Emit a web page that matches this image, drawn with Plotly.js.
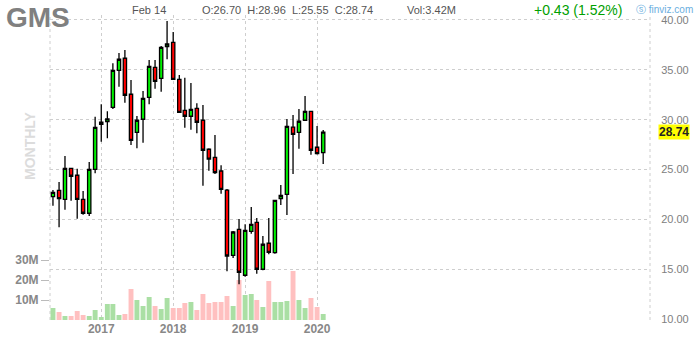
<!DOCTYPE html>
<html><head><meta charset="utf-8">
<script src="https://cdn.plot.ly/plotly-3.0.1.min.js"></script>
<style>html,body{margin:0;padding:0;background:#fff}#chart{width:700px;height:340px}</style>
</head><body><div id="chart"></div>
<script>
const ticker = 'GMS';
const period = 'MONTHLY';
const months = ['2016-05-01','2016-06-01','2016-07-01','2016-08-01','2016-09-01','2016-10-01','2016-11-01','2016-12-01',
  '2017-01-01','2017-02-01','2017-03-01','2017-04-01','2017-05-01','2017-06-01','2017-07-01','2017-08-01','2017-09-01','2017-10-01','2017-11-01','2017-12-01',
  '2018-01-01','2018-02-01','2018-03-01','2018-04-01','2018-05-01','2018-06-01','2018-07-01','2018-08-01','2018-09-01','2018-10-01','2018-11-01','2018-12-01',
  '2019-01-01','2019-02-01','2019-03-01','2019-04-01','2019-05-01','2019-06-01','2019-07-01','2019-08-01','2019-09-01','2019-10-01','2019-11-01','2019-12-01',
  '2020-01-01','2020-02-01'];
const open  = [22.27,22.90,22.01,25.12,24.42,22.01,20.61,25.02,29.54,29.80,31.24,34.95,36.16,32.55,28.73,30.04,32.24,35.25,34.15,37.32,
  37.76,34.05,30.94,30.34,31.14,29.94,27.03,26.22,24.85,22.94,16.39,19.00,14.39,18.80,19.70,14.99,17.60,16.65,22.09,22.51,
  29.26,28.73,29.94,30.84,27.23,26.70];
const high  = [22.94,23.75,26.35,25.15,25.08,22.84,25.75,30.30,31.54,30.84,35.66,36.69,36.99,33.98,30.37,32.88,35.99,35.99,37.39,39.90,
  38.80,34.48,34.21,33.68,31.64,31.47,27.13,28.46,25.42,23.04,18.83,20.03,19.50,21.24,20.13,18.33,20.13,21.95,23.45,30.07,
  30.47,31.07,32.37,30.90,29.37,28.96];
const low   = [21.37,19.20,20.97,21.87,20.06,20.47,20.34,24.62,27.79,28.13,31.07,33.31,31.70,27.46,27.13,27.69,31.54,33.11,32.81,36.06,
  34.00,30.70,29.19,28.99,28.63,23.38,24.88,24.55,22.57,14.79,16.12,13.48,14.25,18.56,14.55,14.89,16.49,16.55,21.44,20.44,
  24.55,27.09,29.90,26.49,26.50,25.55];
const close = [22.71,22.07,25.12,24.32,22.01,20.61,25.02,29.23,29.74,30.07,34.95,36.06,32.45,27.93,29.94,32.14,35.35,33.85,37.26,37.59,
  34.05,30.74,30.34,31.04,29.74,26.93,26.05,24.68,23.01,16.32,18.73,14.69,18.90,19.50,14.99,17.50,16.69,21.91,22.41,29.33,
  28.53,29.84,30.84,26.93,26.60,28.74];
const volumeM = [6.0,4.0,2.0,2.0,4.5,2.5,2.0,5.0,1.5,8.0,8.0,2.5,3.0,15.5,10.0,7.0,11.5,7.0,5.5,11.0,
  6.0,6.0,8.5,9.0,5.0,13.0,8.5,9.0,9.0,12.0,7.0,20.0,12.5,13.0,10.0,6.5,19.5,9.0,9.0,9.5,
  24.5,10.0,6.0,11.0,6.5,3.0];
const yearTicks = ['2017-01-01','2018-01-01','2019-01-01','2020-01-01'];
const yearLabels = ['2017','2018','2019','2020'];
const priceTicks = [10,15,20,25,30,35,40];
const volTicks = [10,20,30];
const volLabels = ['10M','20M','30M'];
const headerDate = 'Feb 14';
const headerOHLC = 'O:26.70  H:28.96  L:25.55  C:28.74';
const headerVol = 'Vol:3.42M';
const headerChange = '+0.43 (1.52%)';

const FONT = 'Arial, "Liberation Sans", sans-serif';
const GRID = '#cecece';
const volColors = close.map((c,i) => c >= open[i] ? '#aadfa4' : '#ffc0c0');

const traces = [
  {type:'bar', x:months, y:volumeM, xaxis:'x', yaxis:'y',
   marker:{color:volColors, line:{width:0}}, width:25*86400000, hoverinfo:'skip'},
  {type:'candlestick', x:months, open:open, high:high, low:low, close:close, xaxis:'x', yaxis:'y2',
   increasing:{fillcolor:'#00f000', line:{color:'#000', width:1.3}},
   decreasing:{fillcolor:'#ff0000', line:{color:'#000', width:1.3}},
   whiskerwidth:0}
];

function px2x(px){return (px-50)/600;}
function px2y(py){return (320-py)/305;}

const layout = {
  width:700, height:340,
  margin:{l:50, r:50, t:15, b:20},
  paper_bgcolor:'#fff', plot_bgcolor:'#fff',
  showlegend:false,
  boxgap:0.15,
  font:{family:FONT},
  xaxis:{type:'date', range:['2016-04-16','2024-08-16'], tickvals:yearTicks, ticktext:yearLabels,
    showgrid:true, gridcolor:GRID, griddash:'3px,3px', zeroline:false, showline:false, ticks:'',
    tickfont:{family:FONT, size:12, color:'#888', weight:'bold'}, rangeslider:{visible:false}, fixedrange:true},
  yaxis:{range:[0,152.5], side:'left', tickvals:volTicks, ticktext:volLabels, ticks:'outside', ticklen:8, tickcolor:'#bbb',
    showgrid:false, zeroline:false, showline:false, tickfont:{family:FONT, size:12, color:'#888', weight:'bold'}, fixedrange:true},
  yaxis2:{overlaying:'y', side:'right', range:[9.9,40.5], tickvals:priceTicks, tickformat:'.2f',
    showgrid:true, gridcolor:GRID, griddash:'3px,3px', zeroline:false, showline:false,
    ticks:'outside', ticklen:8, tickcolor:'rgba(0,0,0,0)',
    tickfont:{family:FONT, size:11, color:'#808080'}, fixedrange:true},
  shapes:[
    {type:'line', xref:'paper', yref:'paper', x0:0, x1:0, y0:0, y1:1, layer:'below', line:{color:GRID, width:1, dash:'3px,3px'}},
    {type:'line', xref:'paper', yref:'paper', x0:1, x1:1, y0:0, y1:1, layer:'below', line:{color:GRID, width:1, dash:'3px,3px'}}
  ],
  annotations:[
    {text:ticker, xref:'paper', yref:'paper', x:px2x(4), y:px2y(17), xanchor:'left', yanchor:'middle', showarrow:false,
     font:{family:FONT, size:28, color:'#808080', weight:'bold'}},
    {text:period, xref:'paper', yref:'paper', x:px2x(30), y:px2y(146), xanchor:'center', yanchor:'middle', showarrow:false, textangle:-90,
     font:{family:FONT, size:14, color:'#dcdcdc', weight:'bold'}},
    {text:headerDate, xref:'paper', yref:'paper', x:px2x(130), y:px2y(10), xanchor:'left', yanchor:'middle', showarrow:false,
     font:{family:FONT, size:11, color:'#555'}},
    {text:headerOHLC, xref:'paper', yref:'paper', x:px2x(200), y:px2y(10), xanchor:'left', yanchor:'middle', showarrow:false,
     font:{family:FONT, size:11, color:'#555'}},
    {text:headerVol, xref:'paper', yref:'paper', x:px2x(405), y:px2y(10), xanchor:'left', yanchor:'middle', showarrow:false,
     font:{family:FONT, size:11, color:'#555'}},
    {text:headerChange, xref:'paper', yref:'paper', x:px2x(532), y:px2y(10), xanchor:'left', yanchor:'middle', showarrow:false,
     font:{family:FONT, size:14, color:'#00a000'}},
    {text:'ⓢ finviz.com', xref:'paper', yref:'paper', x:px2x(634), y:px2y(9), xanchor:'left', yanchor:'middle', showarrow:false,
     font:{family:FONT, size:10, color:'#6aaee0'}},
    {text:close[close.length-1].toFixed(2), xref:'paper', yref:'y2', x:px2x(658), y:close[close.length-1], xanchor:'left', yanchor:'middle',
     showarrow:false, bgcolor:'#ffff00', borderpad:0,
     font:{family:FONT, size:12, color:'#222', weight:'bold'}}
  ]
};

Plotly.newPlot('chart', traces, layout, {displayModeBar:false, staticPlot:true});
</script>
</body></html>
